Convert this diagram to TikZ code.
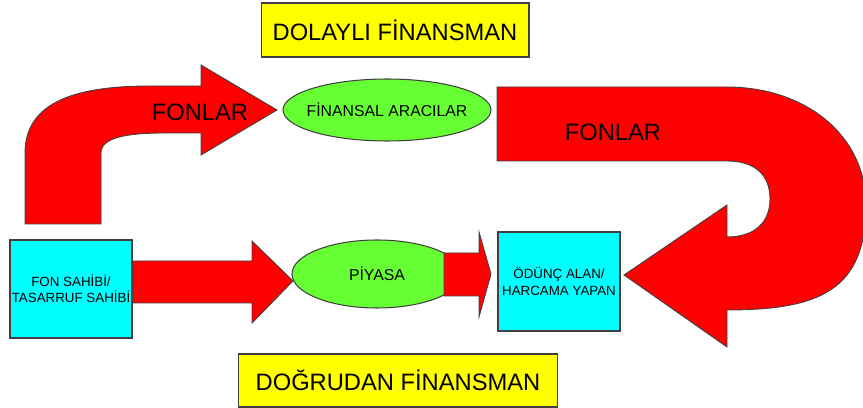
\documentclass[tikz,border=0pt]{standalone}
\usepackage{fontspec}
\setmainfont{Liberation Sans}
\usetikzlibrary{shapes.geometric}
\definecolor{arrowred}{RGB}{255,0,0}
\definecolor{ellgreen}{RGB}{102,255,51}
\definecolor{boxcyan}{RGB}{0,255,255}
\definecolor{titleyellow}{RGB}{255,255,0}
\definecolor{edgegray}{RGB}{64,64,64}
\tikzset{
  titlebox/.style={draw=edgegray, fill=titleyellow, line width=0.6pt, inner sep=0pt, font=\fontsize{13.5}{16}\selectfont},
  agentbox/.style={draw=edgegray, fill=boxcyan, line width=0.6pt, inner sep=0pt, minimum width=2.44cm, align=center, font=\fontsize{7.6}{9.2}\selectfont},
  midell/.style={ellipse, draw=edgegray, fill=ellgreen, line width=0.6pt, inner sep=0pt},
  elllbl/.style={font=\fontsize{9}{11}\selectfont},
  fundarrow/.style={draw=edgegray, fill=arrowred, line width=0.5pt, line join=miter},
  fundlbl/.style={font=\fontsize{13.5}{16}\selectfont},
  }

\begin{document}
\begin{tikzpicture}[x=0.02cm, y=-0.02cm]
  \useasboundingbox (0,0) rectangle (863,408);

  % headings
  \node[titlebox, minimum width=5.36cm, minimum height=1.08cm] (dolayli)  at (395,30)    {DOLAYLI FİNANSMAN};
  \node[titlebox, minimum width=6.4cm,  minimum height=1.06cm] (dogrudan) at (398,380.5) {DOĞRUDAN FİNANSMAN};

  % lender, borrower, intermediaries
  \node[agentbox, minimum height=1.96cm] (fon)   at (71,289)    {FON SAHİBİ/\\TASARRUF SAHİBİ};
  \node[agentbox, minimum height=1.98cm] (odunc) at (559,281.5) {ÖDÜNÇ ALAN/\\HARCAMA YAPAN};
  \node[midell, minimum width=4.16cm, minimum height=1.24cm,
        label={[elllbl]center:FİNANSAL ARACILAR}] (aracilar) at (387,110) {};
  \node[midell, minimum width=3.4cm, minimum height=1.36cm,
        label={[elllbl]center:PİYASA}] (piyasa) at (377,274) {};

  % arrow tips
  \coordinate (tipA) at (293,281);   % -> piyasa
  \coordinate (tipB) at (491,274);   % -> odunc
  \coordinate (tipC) at (277,110);   % -> aracilar
  \coordinate (tipD) at (624,275);   % -> odunc

  % direct route
  \draw[fundarrow] (fon.east |- 0,261) -- (252,261) -- (252,241) -- (tipA)
    -- (252,323) -- (252,303) -- (fon.east |- 0,303) -- cycle;
  \draw[fundarrow] (444,253) -- (479,253) -- (479,232) -- (tipB)
    -- (479,317) -- (479,296) -- (444,296) -- cycle;

  % indirect route, bent arrow up
  \draw[fundarrow] (25,224) -- (25,153) .. controls (25,100) and (80,86) .. (150,86)
    -- (201,86) -- (201,65) -- (tipC) -- (201,155) -- (201,133) -- (165,133)
    .. controls (125,133) and (101,138) .. (101,153) -- (101,224) -- cycle;

  % indirect route, u-turn arrow
  \draw[fundarrow] (497,87) -- (727,87) .. controls (805,87) and (866,135) .. (866,205)
    .. controls (866,290) and (820,310) .. (727,310) -- (727,347) -- (tipD)
    -- (727,205) -- (727,237) .. controls (755,237) and (770,222) .. (770,199)
    .. controls (770,175) and (755,161) .. (727,161) -- (497,161) -- cycle;

  % arrow labels
  \node[fundlbl] (fonlarA) at (200,112) {FONLAR};
  \node[fundlbl] (fonlarB) at (613,132) {FONLAR};
\end{tikzpicture}
\end{document}
